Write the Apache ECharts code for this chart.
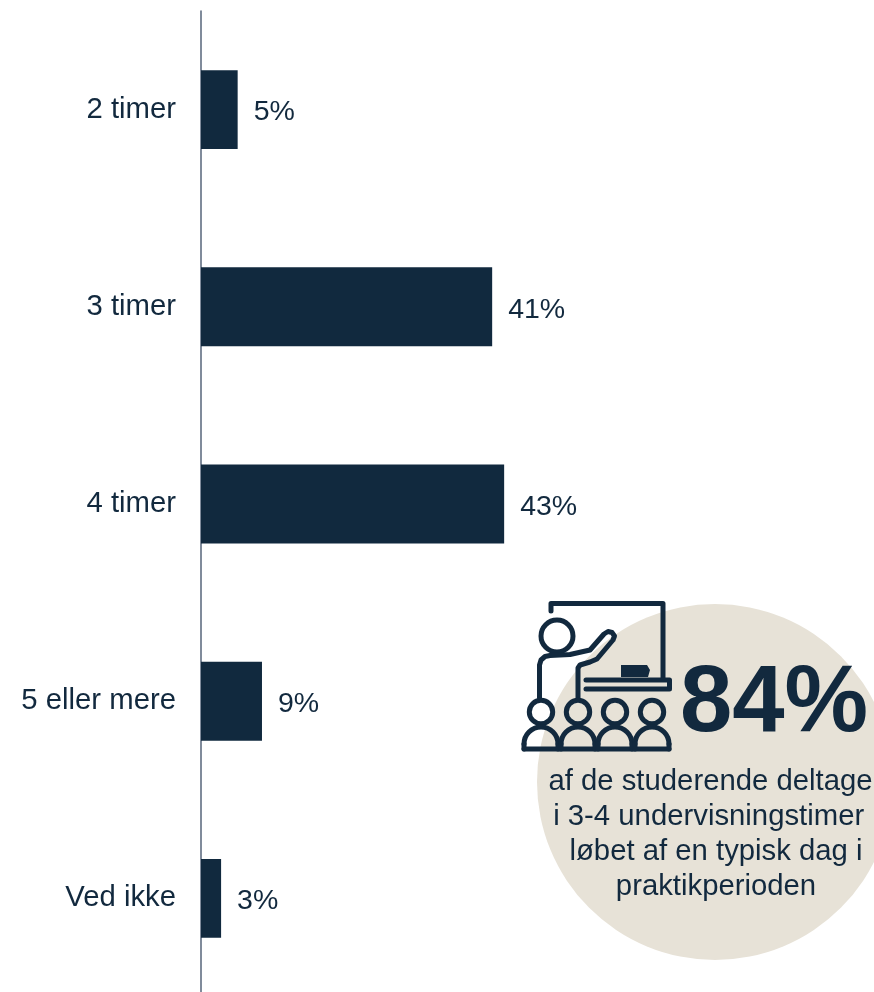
<!DOCTYPE html>
<html>
<head>
<meta charset="utf-8">
<style>html,body{margin:0;padding:0;background:#fff}#c{width:874px;height:992px}</style>
<script src="https://cdn.jsdelivr.net/npm/echarts@6/dist/echarts.min.js"></script>
</head>
<body>
<div id="c"></div>
<script>
const categories = ['2 timer', '3 timer', '4 timer', '5 eller mere', 'Ved ikke'];
const shares = [5.2, 41.3, 43, 8.65, 2.85];
const calloutValue = '84%';
const calloutLines = [
  'af de studerende deltage',
  'i 3-4 undervisningstimer i',
  'løbet af en typisk dag i',
  'praktikperioden'
];
const studentHeads = [541, 578, 615, 652];

const INK = '#12293e';
const FONT = '"Liberation Sans", Arial, sans-serif';
const iconStyle = { stroke: INK, lineWidth: 5, fill: 'none', lineCap: 'round', lineJoin: 'round' };
const lineCentres = [710.5, 716, 716, 716];

const graphics = [
  { type: 'circle', z: 1, shape: { cx: 715, cy: 782, r: 178 }, style: { fill: '#e7e2d7' } },
  // Board
  { type: 'polyline', z: 2, shape: { points: [[551, 611], [551, 603.5], [663, 603.5], [663, 678]] }, style: iconStyle },
  { type: 'polyline', z: 2, shape: { points: [[586, 680], [669.5, 680], [669.5, 689], [586, 689]] }, style: iconStyle },
  { type: 'polygon', z: 2, shape: { points: [[621, 665], [647, 665], [650, 670], [648, 677], [621, 677]] }, style: { fill: INK } },
  // Teacher
  { type: 'circle', z: 2, shape: { cx: 557, cy: 636, r: 16 }, style: iconStyle },
  { type: 'polyline', z: 2, shape: { points: [
    [539.5, 698], [539.5, 665], [541, 660], [545, 656.5], [550, 655.5], [570, 654.5], [590, 650],
    [604, 634], [608, 631.5], [612, 632.5], [614.5, 636], [613, 640], [597, 659], [590, 662],
    [580, 665], [578, 668], [578, 698]
  ] }, style: iconStyle },
  // Students' shared base line
  { type: 'line', z: 2, shape: { x1: 524, y1: 749, x2: 669, y2: 749 }, style: iconStyle }
];

studentHeads.forEach(function (x) {
  graphics.push({ type: 'circle', z: 2, shape: { cx: x, cy: 712, r: 11.7 }, style: iconStyle });
  graphics.push({ type: 'arc', z: 2, shape: { cx: x, cy: 744, r: 17, startAngle: Math.PI, endAngle: Math.PI * 2, clockwise: true }, style: iconStyle });
  graphics.push({ type: 'line', z: 2, shape: { x1: x - 17, y1: 744, x2: x - 17, y2: 749 }, style: iconStyle });
  graphics.push({ type: 'line', z: 2, shape: { x1: x + 17, y1: 744, x2: x + 17, y2: 749 }, style: iconStyle });
});

graphics.push({
  type: 'text', z: 3, x: 774, y: 705,
  style: { text: calloutValue, fill: INK, font: 'bold 94px ' + FONT, textAlign: 'center', textVerticalAlign: 'middle' }
});
calloutLines.forEach(function (line, i) {
  graphics.push({
    type: 'text', z: 3, x: lineCentres[i], y: 781.5 + i * 35,
    style: { text: line, fill: INK, font: '29.3px ' + FONT, textAlign: 'center', textVerticalAlign: 'middle' }
  });
});

const chart = echarts.init(document.getElementById('c'), null, { renderer: 'canvas', width: 874, height: 992 });
chart.setOption({
  animation: false,
  backgroundColor: '#ffffff',
  grid: { left: 201, top: 11, width: 423, height: 986, containLabel: false, outerBoundsMode: 'none' },
  xAxis: { type: 'value', min: 0, max: 60, show: false },
  yAxis: {
    type: 'category',
    inverse: true,
    data: categories,
    axisTick: { show: false },
    axisLine: { show: true, lineStyle: { color: '#56657a', width: 1.5 } },
    axisLabel: { color: INK, fontFamily: FONT, fontSize: 29.3, margin: 25, padding: [3, 0, 0, 0] }
  },
  series: [{
    type: 'bar',
    data: shares,
    barWidth: '40%',
    itemStyle: { color: '#11293e' },
    label: {
      show: true,
      position: 'right',
      distance: 16,
      offset: [0, 3],
      color: INK,
      fontFamily: FONT,
      fontSize: 28.5,
      formatter: function (p) { return Math.round(p.value) + '%'; }
    }
  }],
  graphic: { elements: graphics }
});
</script>
</body>
</html>
